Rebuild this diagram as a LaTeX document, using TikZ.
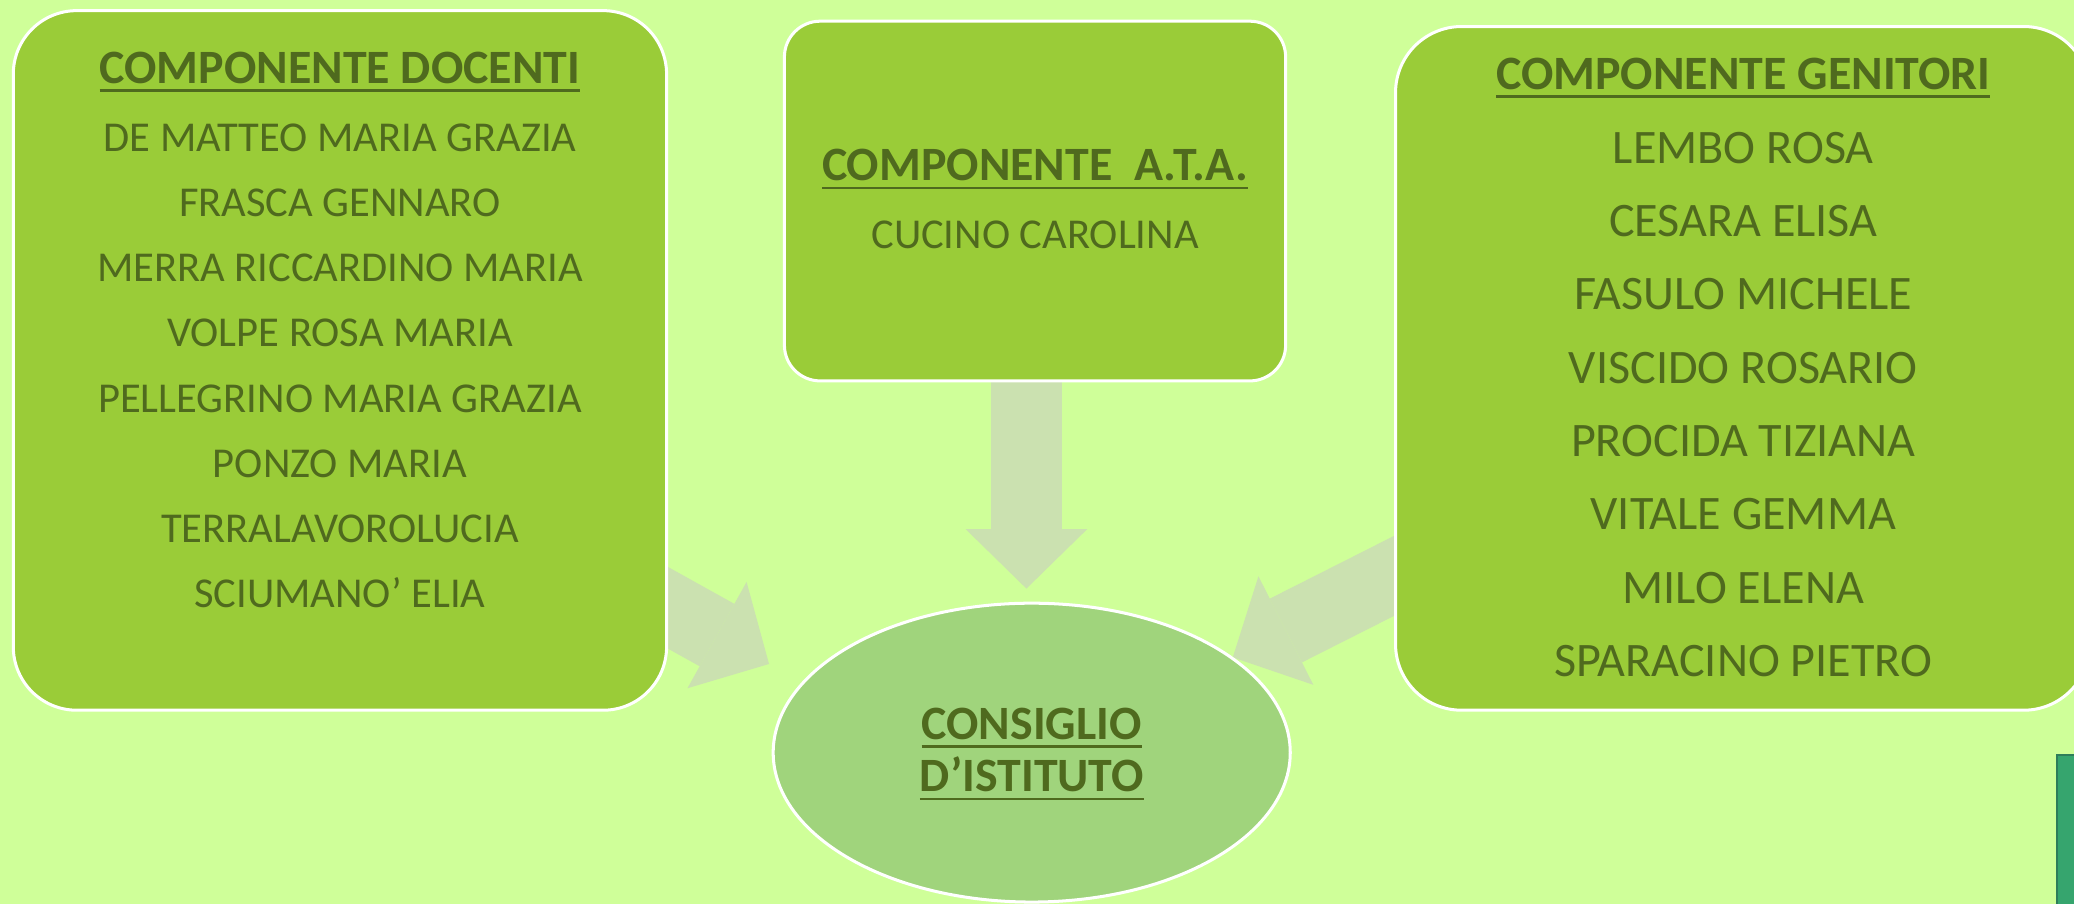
\documentclass[tikz,border=0pt]{standalone}
\usepackage{fontspec}
\setmainfont{Carlito}
\usetikzlibrary{arrows.meta,shapes.geometric}
\definecolor{bgc}{HTML}{CFFF99}
\definecolor{boxc}{HTML}{9ACC38}
\definecolor{txtc}{HTML}{4F6A1E}
\definecolor{ellc}{HTML}{A0D47C}
\definecolor{arrc}{HTML}{CBE1B0}
\definecolor{barc}{HTML}{36A56E}
\definecolor{barbord}{HTML}{2E7D5A}
\newsavebox\ulbox
\newcommand\ulin[1]{\sbox\ulbox{#1}\rlap{\rule[-3.65pt]{\wd\ulbox}{1.1pt}}\usebox\ulbox}
\pgfdeclarelayer{back}
\pgfdeclarelayer{arrowlayer}
\pgfsetlayers{back,arrowlayer,main}
\begin{document}
\begin{tikzpicture}[x=0.02cm,y=-0.02cm,
  grpbox/.style={draw=white, line width=1.3pt, fill=boxc, rectangle, inner sep=0pt},
  titletxt/.style={font=\fontsize{20.6}{24}\selectfont\bfseries, text=txtc, anchor=base, inner sep=0pt},
  nametxt/.style={font=\fontsize{18.3}{22}\selectfont, text=txtc, anchor=base, inner sep=0pt},
  bignametxt/.style={font=\fontsize{20.7}{24}\selectfont, text=txtc, anchor=base, inner sep=0pt},
  blockarrow/.style={draw=arrc, line width=1.08cm, -{Triangle[length=0.9cm,width=1.84cm,line width=0pt]}}]
\clip (0,0) rectangle (1568,683.45);
\begin{pgfonlayer}{back}
\fill[bgc] (0,0) rectangle (1568,683.45);
\end{pgfonlayer}

% boxes
\node[grpbox, rounded corners=0.96cm, minimum width=9.88cm, minimum height=10.58cm] (docenti) at (257,272.5) {};
\node[grpbox, rounded corners=0.54cm, minimum width=7.58cm, minimum height=5.44cm] (ata) at (782.5,152) {};
\node[grpbox, rounded corners=1.0cm, minimum width=10.5cm, minimum height=10.34cm] (genitori) at (1317.5,278.5) {};
\node[ellipse, draw=white, line width=1.3pt, fill=ellc, minimum width=7.82cm, minimum height=4.52cm, inner sep=0pt] (consiglio) at (780,569) {};

% texts
\node[titletxt] (tdoc) at (257,63) {\ulin{COMPONENTE DOCENTI}};
\foreach \t [count=\i from 0] in {DE MATTEO MARIA GRAZIA, FRASCA GENNARO, MERRA RICCARDINO MARIA, VOLPE ROSA MARIA, PELLEGRINO MARIA GRAZIA, PONZO MARIA, TERRALAVOROLUCIA, SCIUMANO’ ELIA}
  \node[nametxt] (doc\i) at (257,114.7+49.2*\i) {\t};

\node[titletxt] (tata) at (782.5,136.6) {\ulin{COMPONENTE\ \ A.T.A.}};
\node[nametxt] (ata0) at (782.5,188) {CUCINO CAROLINA};

\node[titletxt] (tgen) at (1318,67.5) {\ulin{COMPONENTE GENITORI}};
\foreach \t [count=\i from 0] in {LEMBO ROSA, CESARA ELISA, FASULO MICHELE, VISCIDO ROSARIO, PROCIDA TIZIANA, VITALE GEMMA, MILO ELENA, SPARACINO PIETRO}
  \node[bignametxt] (gen\i) at (1318,123.5+55.4*\i) {\t};

\node[titletxt] (tcons1) at (780,559) {\ulin{CONSIGLIO}};
\node[titletxt] (tcons2) at (780,598.6) {\ulin{D’ISTITUTO}};

% arrows
\coordinate (a1s) at (776,250);
\coordinate (a1e) at (776,445);
\coordinate (a2s) at (406.6,404.8);
\coordinate (a2e) at (581.4,502);
\coordinate (a3s) at (1110.5,406.8);
\coordinate (a3e) at (932,497);
\begin{pgfonlayer}{arrowlayer}
\draw[blockarrow] (a1s) -- (a1e);
\draw[blockarrow] (a2s) -- (a2e);
\draw[blockarrow] (a3s) -- (a3e);
\end{pgfonlayer}

% partial bar at bottom right
\draw[draw=barbord, fill=barc, line width=1pt] (1555,571) rectangle (1600,700);
\end{tikzpicture}
\end{document}
